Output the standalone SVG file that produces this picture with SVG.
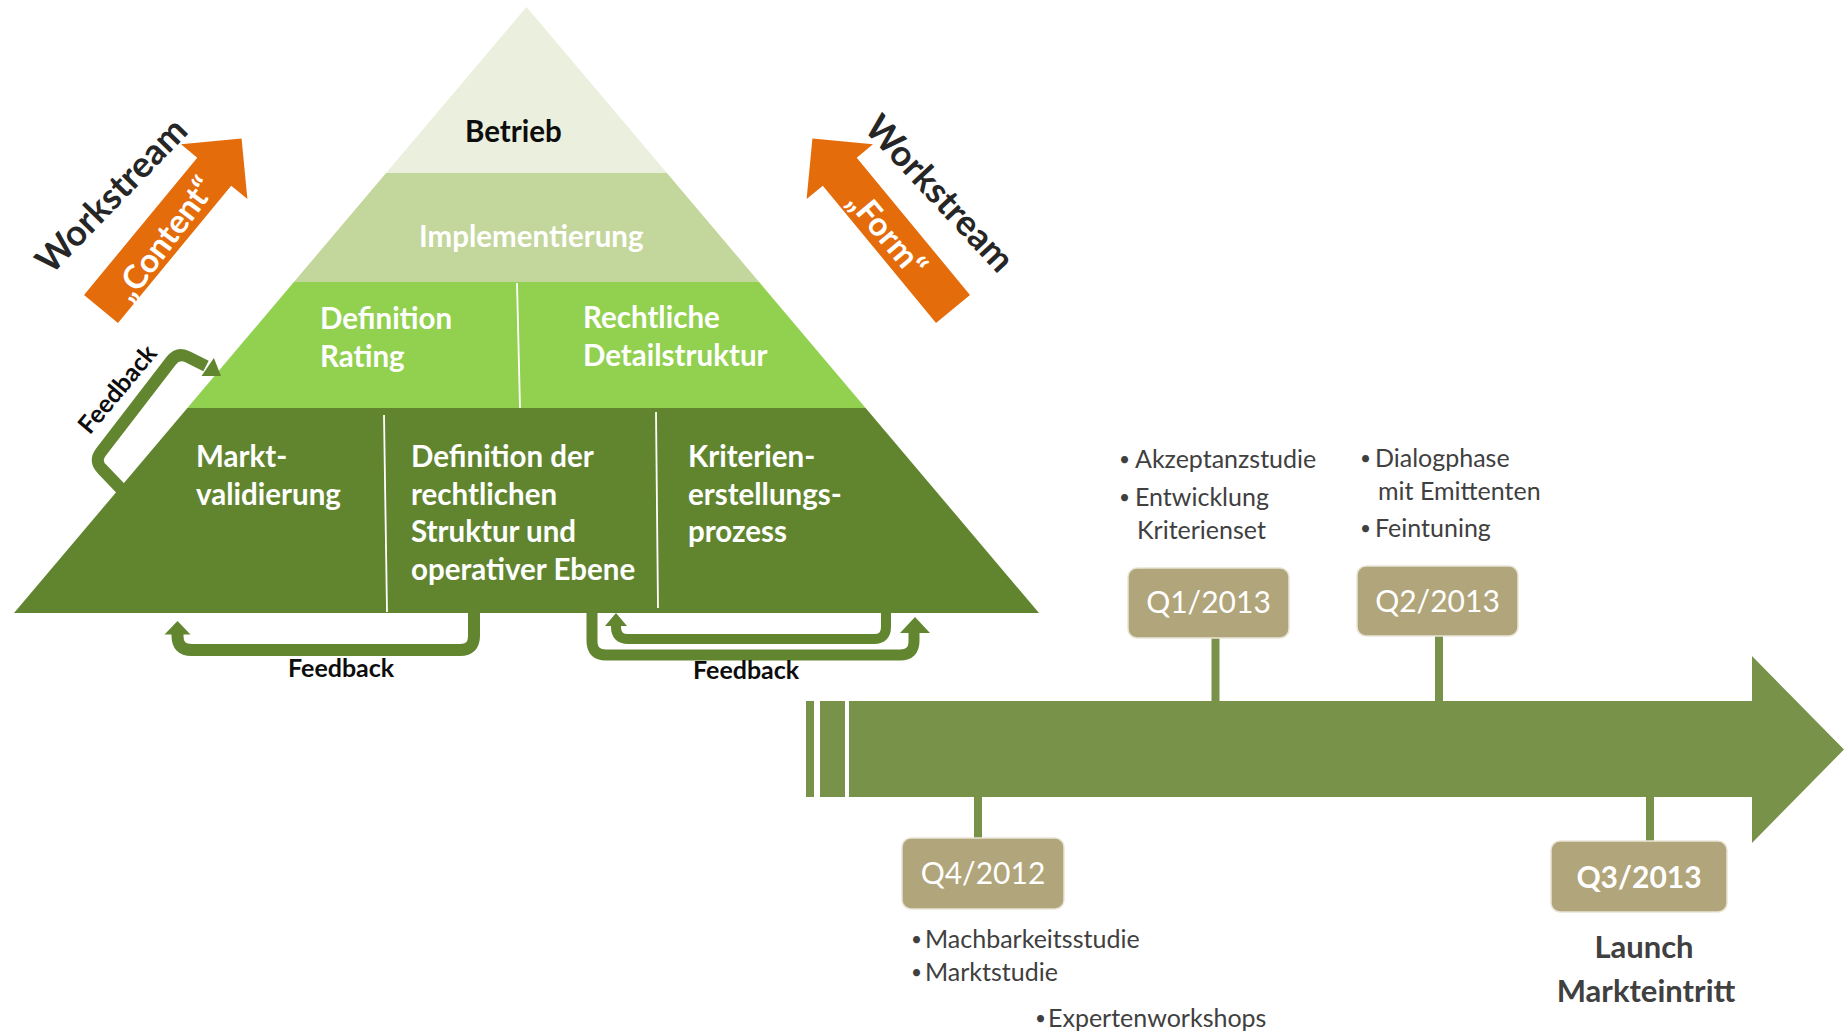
<svg xmlns="http://www.w3.org/2000/svg" width="1848" height="1033" viewBox="0 0 1848 1033">
<style>
.pt{font-family:Lato,"Open Sans","Liberation Sans",sans-serif;font-weight:700;font-size:29.5px;fill:#ffffff}
.blk{fill:#0d0d0d}
.ws{font-family:Lato,"Open Sans","Liberation Sans",sans-serif;font-weight:700;font-size:36px;fill:#262626}
.ar{font-family:Lato,"Open Sans","Liberation Sans",sans-serif;font-weight:700;font-size:33px;fill:#ffffff}
.fb{font-family:Lato,"Open Sans","Liberation Sans",sans-serif;font-weight:700;font-size:25px;fill:#0d0d0d}
.q{font-family:Lato,"Open Sans","Liberation Sans",sans-serif;font-size:30px;fill:#ffffff;text-anchor:middle}
.bl{font-family:Lato,"Open Sans","Liberation Sans",sans-serif;font-size:25px;fill:#404040}
.bu{font-size:19px}
.ln{font-family:Lato,"Open Sans","Liberation Sans",sans-serif;font-weight:700;font-size:31px;fill:#404040;text-anchor:middle}
.box{fill:#b1a57b;stroke:#e9e5d6;stroke-width:1.5}
.stem{stroke:#79924a;stroke-width:8}
.loop{fill:none;stroke:#62862f;stroke-linejoin:round}
.head{fill:#62862f}
.div{stroke:#ffffff;stroke-width:1.8}
.orange{fill:#e46c0a}
</style>

<g id="pyramid">
  <polygon id="band-betrieb" points="526.5,7 666.9,173 386.1,173" fill="#ebefdd"/>
  <polygon id="band-implementierung" points="386.1,173 666.9,173 759.1,282 293.9,282" fill="#c3d69b"/>
  <polygon id="band-definition" points="293.9,282 759.1,282 865.6,408 187.4,408" fill="#92d050"/>
  <polygon id="band-basis" points="187.4,408 865.6,408 1039,613 14,613" fill="#61852f"/>
  <line class="div" x1="517" y1="283" x2="520" y2="408"/>
  <line class="div" x1="384" y1="415" x2="387" y2="612"/>
  <line class="div" x1="656" y1="412" x2="658" y2="608"/>
</g>

<g id="node-betrieb"><text class="pt blk" x="465" y="142">Betrieb</text></g>
<g id="node-implementierung"><text class="pt" x="419" y="247">Implementierung</text></g>
<g id="node-definition-rating"><text class="pt" x="320" y="329">Definition</text><text class="pt" x="320" y="367">Rating</text></g>
<g id="node-rechtliche-detailstruktur"><text class="pt" x="583" y="328">Rechtliche</text><text class="pt" x="583" y="366">Detailstruktur</text></g>
<g id="node-marktvalidierung"><text class="pt" x="196" y="467">Markt-</text><text class="pt" x="196" y="505">validierung</text></g>
<g id="node-definition-struktur"><text class="pt" x="411" y="467">Definition der</text><text class="pt" x="411" y="505">rechtlichen</text><text class="pt" x="411" y="542">Struktur und</text><text class="pt" x="411" y="580">operativer Ebene</text></g>
<g id="node-kriterien"><text class="pt" x="688" y="467">Kriterien-</text><text class="pt" x="688" y="505">erstellungs-</text><text class="pt" x="688" y="542">prozess</text></g>

<g id="workstream-content">
  <polygon class="orange" transform="translate(101,309) rotate(-50.5)" points="0,-22 178,-22 178,-43 221,0 178,43 178,22 0,22"/>
  <text class="ar" text-anchor="middle" transform="translate(165,239) rotate(-53)" y="11">„Content“</text>
  <text class="ws" text-anchor="middle" transform="translate(111,195) rotate(-46)" y="13">Workstream</text>
</g>
<g id="workstream-form">
  <polygon class="orange" transform="translate(953,309) rotate(-129.5)" points="0,-22 178,-22 178,-43 221,0 178,43 178,22 0,22"/>
  <text class="ar" text-anchor="middle" transform="translate(887,234) rotate(50)" y="11">„Form“</text>
  <text class="ws" text-anchor="middle" transform="translate(940,193) rotate(47)" y="13">Workstream</text>
</g>

<g id="connectors">
  <path class="loop" stroke-width="12" d="M124,492 L102,469 Q94,461 101,452 L171,361 Q178,352 188,357 L206,366"/>
  <polygon class="head" points="221,376 201.5,376.1 213.9,357.9"/>
  <path class="loop" stroke-width="12" d="M474,608 L474,636 Q474,650 460,650 L191.5,650 Q177.5,650 177.5,636 L177.5,632"/>
  <polygon class="head" points="177.5,621 164.5,634.5 190.5,634.5"/>
  <path class="loop" stroke-width="11" d="M592,608 L592,641 Q592,655 606,655 L900,655 Q914,655 914,641 L914,630"/>
  <polygon class="head" points="915,617 900,633 930,633"/>
  <path class="loop" stroke-width="10" d="M886,608 L886,627 Q886,639 874,639 L628,639 Q616,639 616,627 L616,624"/>
  <polygon class="head" points="616,613 605,626 627,626"/>
  <line class="stem" x1="1215.5" y1="637" x2="1215.5" y2="703"/>
  <line class="stem" x1="1439" y1="631" x2="1439" y2="703"/>
  <line class="stem" x1="978" y1="796" x2="978" y2="839"/>
  <line class="stem" x1="1650" y1="796" x2="1650" y2="842"/>
</g>
<text class="fb" transform="translate(117,389) rotate(-50)" text-anchor="middle" y="9">Feedback</text>
<text class="fb" x="288" y="677">Feedback</text>
<text class="fb" x="693" y="679">Feedback</text>

<g id="timeline">
  <rect x="806" y="701" width="8" height="96" fill="#79924a"/>
  <rect x="820" y="701" width="25" height="96" fill="#79924a"/>
  <polygon points="849,701 1752,701 1752,656 1844,749.5 1752,843 1752,797 849,797" fill="#79924a"/>
</g>

<g id="node-q4-2012">
  <rect class="box" x="902" y="838" width="162" height="71" rx="9"/>
  <text class="q" x="983" y="884">Q4/2012</text>
  <text class="bl"><tspan class="bu" x="911" y="946">•</tspan><tspan x="925" y="948">Machbarkeitsstudie</tspan></text>
  <text class="bl"><tspan class="bu" x="911" y="979">•</tspan><tspan x="925" y="981">Marktstudie</tspan></text>
  <text class="bl"><tspan class="bu" x="1035" y="1025">•</tspan><tspan x="1048" y="1027">Expertenworkshops</tspan></text>
</g>
<g id="node-q1-2013">
  <rect class="box" x="1128" y="568" width="161" height="70" rx="9"/>
  <text class="q" x="1208.5" y="613">Q1/2013</text>
  <text class="bl"><tspan class="bu" x="1119" y="466">•</tspan><tspan x="1135" y="468">Akzeptanzstudie</tspan></text>
  <text class="bl"><tspan class="bu" x="1119" y="504">•</tspan><tspan x="1135" y="506">Entwicklung</tspan></text>
  <text class="bl" x="1137" y="539">Kriterienset</text>
</g>
<g id="node-q2-2013">
  <rect class="box" x="1357" y="566" width="161" height="70" rx="9"/>
  <text class="q" x="1437.5" y="612">Q2/2013</text>
  <text class="bl"><tspan class="bu" x="1360" y="465">•</tspan><tspan x="1375" y="467">Dialogphase</tspan></text>
  <text class="bl" x="1378" y="500">mit Emittenten</text>
  <text class="bl"><tspan class="bu" x="1360" y="535">•</tspan><tspan x="1375" y="537">Feintuning</tspan></text>
</g>
<g id="node-q3-2013">
  <rect class="box" x="1551" y="841" width="176" height="71" rx="9"/>
  <text class="q" x="1639" y="888" font-weight="700">Q3/2013</text>
  <text class="ln" x="1644" y="958">Launch</text>
  <text class="ln" x="1646" y="1002">Markteintritt</text>
</g>
</svg>
